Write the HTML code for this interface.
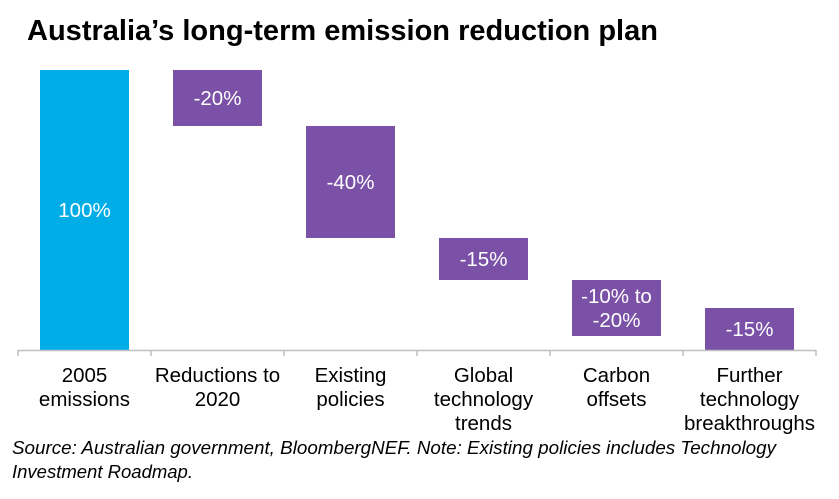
<!DOCTYPE html>
<html><head><meta charset="utf-8"><style>
body{margin:0;background:#fff;width:839px;height:494px;overflow:hidden;font-family:"Liberation Sans",Arial,sans-serif}
</style></head><body>
<svg width="839" height="494">
<text x="27" y="40" font-size="29" font-weight="bold" fill="#000" textLength="631" lengthAdjust="spacingAndGlyphs">Australia’s long-term emission reduction plan</text>
<g id="plot"></g>
<text x="12" y="454" font-size="18.5" font-style="italic" fill="#000" textLength="764" lengthAdjust="spacingAndGlyphs">Source: Australian government, BloombergNEF. Note: Existing policies includes Technology</text>
<text x="12" y="478" font-size="18.5" font-style="italic" fill="#000">Investment Roadmap.</text>
</svg>
<script>
const categories=[["2005","emissions"],["Reductions to","2020"],["Existing","policies"],["Global","technology","trends"],["Carbon","offsets"],["Further","technology","breakthroughs"]];
const barTops=[100,100,80,40,25,15];
const barBottoms=[0,80,40,25,5,0];
const valueLabels=[["100%"],["-20%"],["-40%"],["-15%"],["-10% to","-20%"],["-15%"]];
const NS="http://www.w3.org/2000/svg";
const g=document.getElementById('plot');
const x0=18,step=133,base=350,scale=2.8,bw=89;
const y=v=>base-v*scale;
const xc=i=>x0+step*i+step/2;
function mk(t,a){const e=document.createElementNS(NS,t);for(const k in a)e.setAttribute(k,a[k]);g.appendChild(e);return e;}
categories.forEach((c,i)=>{
  const r=mk('rect',{x:xc(i)-bw/2,y:y(barTops[i]),width:bw,height:y(barBottoms[i])-y(barTops[i]),fill:i===0?'#00ade6':'#7a51a7'});
  
  
  const mid=(y(barTops[i])+y(barBottoms[i]))/2;
  const L=valueLabels[i];
  L.forEach((s,j)=>{
    const t=mk('text',{x:xc(i),y:mid+7+(j-(L.length-1)/2)*24,'font-size':20.5,fill:'#fff','text-anchor':'middle'});
    t.textContent=s;
    
    
  });
  c.forEach((s,j)=>{
    const t=mk('text',{x:xc(i),y:382+j*24,'font-size':20.5,fill:'#000','text-anchor':'middle'});
    t.textContent=s;
    
    
  });
});
const ax=mk('line',{x1:x0,x2:x0+step*6,y1:base+0.5,y2:base+0.5,stroke:'#bfbfbf','stroke-width':1.5});


for(let i=0;i<=6;i++){
  const tk=mk('line',{x1:x0+step*i,x2:x0+step*i,y1:base,y2:base+6,stroke:'#bfbfbf','stroke-width':1.5});
  
  
}
</script>
</body></html>
